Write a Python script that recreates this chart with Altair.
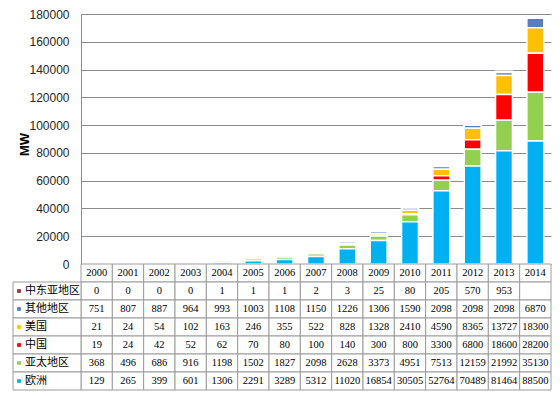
import altair as alt
import pandas as pd

years = [str(y) for y in range(2000, 2015)]
series = ["中东亚地区", "其他地区", "美国", "中国", "亚太地区", "欧洲"]
colors = ["#953735", "#4F81BD", "#FFC000", "#FF0000", "#92D050", "#00B0F0"]

v_middle_east = [0, 0, 0, 0, 1, 1, 1, 2, 3, 25, 80, 205, 570, 953, None]
v_other = [751, 807, 887, 964, 993, 1003, 1108, 1150, 1226, 1306, 1590, 2098, 2098, 2098, 6870]
v_usa = [21, 24, 54, 102, 163, 246, 355, 522, 828, 1328, 2410, 4590, 8365, 13727, 18300]
v_china = [19, 24, 42, 52, 62, 70, 80, 100, 140, 300, 800, 3300, 6800, 18600, 28200]
v_apac = [368, 496, 686, 916, 1198, 1502, 1827, 2098, 2628, 3373, 4951, 7513, 12159, 21992, 35130]
v_europe = [129, 265, 399, 601, 1306, 2291, 3289, 5312, 11020, 16854, 30505, 52764, 70489, 81464, 88500]

values = [v_middle_east, v_other, v_usa, v_china, v_apac, v_europe]
y_ticks = list(range(0, 180001, 20000))

rows = []
for s_i, s in enumerate(series):
    for y_i, y in enumerate(years):
        v = values[s_i][y_i]
        rows.append({
            "year": y,
            "series": s,
            "row": s,
            "value": 0 if v is None else v,
            "label": "" if v is None else str(v),
            "order": len(series) - 1 - s_i,
        })
df = pd.DataFrame(rows)

hdr = pd.DataFrame({"year": years, "row": ["hdr"] * len(years), "label": years})
tdf = pd.concat([hdr, df[["year", "row", "label"]]], ignore_index=True)
table_rows = ["hdr"] + series

GRID = "#8c8c8c"
LINE = "#9c9c9c"
color_scale = alt.Scale(domain=series, range=colors)

bars = alt.Chart(df).mark_bar(stroke="white", strokeWidth=1.5).encode(
    x=alt.X("year:N", sort=years,
            scale=alt.Scale(domain=years, paddingInner=0.46, paddingOuter=0.23),
            axis=alt.Axis(labels=False, ticks=False, title=None, grid=False,
                          domainColor=GRID)),
    y=alt.Y("value:Q", stack="zero",
            scale=alt.Scale(domain=[0, 180000], nice=False),
            axis=alt.Axis(values=y_ticks, format="d", title="MW", ticks=False,
                          labelFont="Liberation Sans", labelFontSize=12,
                          labelColor="#262626", labelPadding=12,
                          domainColor=GRID, gridColor=GRID, gridWidth=1,
                          titleFont="Liberation Sans", titleFontSize=13,
                          titleFontWeight="bold", titleColor="black",
                          titleX=-57, titleY=130, titleAlign="center",
                          titleBaseline="middle")),
    color=alt.Color("series:N", scale=color_scale, legend=None),
    order=alt.Order("order:Q", sort="ascending"),
).properties(width=470, height=250)

row_scale = alt.Scale(domain=table_rows, paddingInner=0, paddingOuter=0)
base = alt.Chart(tdf).encode(
    x=alt.X("year:N", scale=alt.Scale(domain=years, paddingInner=0, paddingOuter=0), axis=None),
    y=alt.Y("row:N", scale=row_scale, axis=None),
)
cells = base.mark_rect(fill="white", stroke=LINE, strokeWidth=1)
cell_text = base.mark_text(font="Liberation Serif", fontSize=10.5, color="black").encode(
    text="label:N")

ldf = pd.DataFrame({"row": series, "series": series})
lbase = alt.Chart(ldf).encode(y=alt.Y("row:N", scale=row_scale, axis=None))
lrect = lbase.mark_rect(fill="white", stroke=LINE, strokeWidth=1).encode(
    x=alt.value(-68), x2=alt.value(0))
lsq = lbase.mark_square(size=14, opacity=1).encode(
    x=alt.value(-62),
    color=alt.Color("series:N", scale=color_scale, legend=None))
ltext = lbase.mark_text(align="left", font="Noto Sans CJK SC", fontSize=11,
                        color="black").encode(x=alt.value(-56), text="row:N")

table = alt.layer(cells, cell_text, lrect, lsq, ltext).properties(width=470, height=126)

chart = alt.vconcat(bars, table, spacing=0, bounds="flush").resolve_scale(
    x="independent", y="independent", color="independent"
).properties(
    padding={"left": 4, "right": 0, "top": 0, "bottom": 0}
).configure_view(stroke=None)

chart.save("out.html", embed_options={"renderer": "svg", "actions": False})
